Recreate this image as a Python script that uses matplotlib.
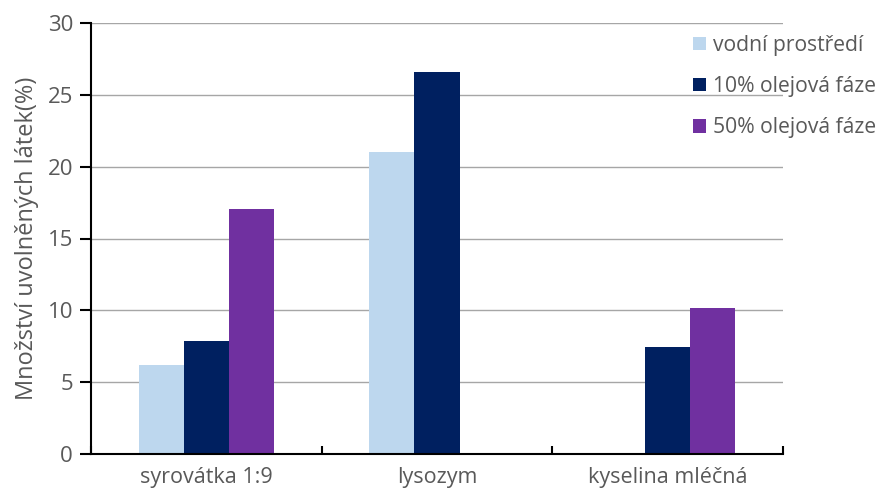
import matplotlib

matplotlib.use("Agg")
import matplotlib.pyplot as plt
import numpy as np
from matplotlib.patches import Patch

categories = ["syrovátka 1:9", "lysozym", "kyselina mléčná"]
series_names = ["vodní prostředí", "10% olejová fáze", "50% olejová fáze"]
vodni = [6.2, 21.0, 0.0]
olej10 = [7.85, 26.6, 7.45]
olej50 = [17.05, 0.0, 10.15]
y_ticks = [0, 5, 10, 15, 20, 25, 30]

colors = ["#BDD7EE", "#002060", "#7030A0"]
text_color = "#595959"

plt.rcParams["font.family"] = ["Open Sans", "DejaVu Sans"]

fig = plt.figure(figsize=(8.8, 4.96), dpi=100)
ax = fig.add_axes([91 / 880, 1 - 454 / 496, (783 - 91) / 880, (454 - 23) / 496])

x = np.arange(len(categories))
width = 0.196
for i, (vals, name) in enumerate(zip([vodni, olej10, olej50], series_names)):
    ax.bar(x + (i - 1) * width, vals, width, color=colors[i], label=name, zorder=3)

ax.set_xlim(-0.5, len(categories) - 0.5)
ax.set_ylim(0, 30)
ax.set_yticks(y_ticks)
ax.yaxis.grid(True, color="#a6a6a6", linewidth=1.0, zorder=0)
ax.set_xticks(x)
ax.set_xticklabels(categories, fontsize=15.5, color=text_color)
ax.tick_params(axis="x", length=0, pad=9)
ax.set_xticks(np.arange(len(categories) + 1) - 0.5, minor=True)
ax.tick_params(axis="x", which="minor", direction="in", length=6, width=1.5, color="black")
ax.tick_params(axis="y", direction="out", length=8, width=1.5, labelsize=16,
               labelcolor=text_color, pad=5)
for side in ["top", "right"]:
    ax.spines[side].set_visible(False)
ax.spines["left"].set_linewidth(1.5)
ax.spines["bottom"].set_linewidth(1.5)
ax.spines["bottom"].set_zorder(4)

ax.set_ylabel("Množství uvolněných látek(%)", fontsize=17, color=text_color, labelpad=6)

# legend sits over the plot area, no frame, gridline runs behind it
handles = [Patch(facecolor=c, edgecolor="none") for c in colors]
fig.legend(handles, series_names, loc="upper left", bbox_to_anchor=(693 / 880, 1 - 35 / 496),
           frameon=False, fontsize=15.2, labelcolor=text_color, handlelength=0.62,
           handleheight=0.62, handletextpad=0.35, labelspacing=0.95, borderpad=0,
           borderaxespad=0)

fig.savefig("out.png", dpi=100)
